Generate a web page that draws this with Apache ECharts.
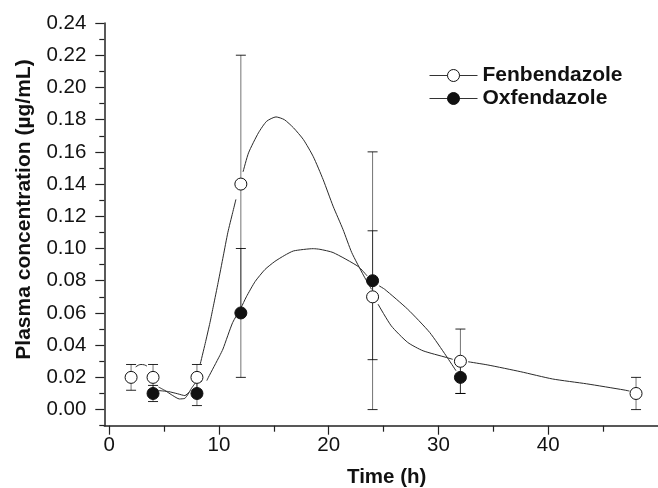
<!DOCTYPE html>
<html>
<head>
<meta charset="utf-8">
<script src="https://cdn.jsdelivr.net/npm/echarts@6.0.0/dist/echarts.min.js"></script>
<style>
  html, body { margin: 0; padding: 0; background: #fff; }
  #chart { width: 658px; height: 488px; }
</style>
</head>
<body>
<div id="chart"></div>
<script>
// ---- Data ----
const fenTime = [2, 4, 8, 12, 24, 32, 48];
const fenMean = [0.020, 0.020, 0.020, 0.140, 0.070, 0.030, 0.010];
const fenLow  = [0.012, 0.012, 0.012, 0.060, 0.000, 0.010, 0.000];
const fenHigh = [0.028, 0.028, 0.028, 0.220, 0.160, 0.050, 0.020];

const oxfTime = [4, 8, 12, 24, 32];
const oxfMean = [0.010, 0.010, 0.060, 0.080, 0.020];
const oxfLow  = [0.005, 0.0025, 0.020, 0.031, 0.010];
const oxfHigh = [0.015, 0.0175, 0.100, 0.111, 0.030];

// fitted (smoothed) curves as drawn in the figure; null = gap at a marker
const fenCurveX = [2.42, 2.7, 2.9, 3.2, 3.45, 3.9,
  4.5, 5.1, 5.8, 6.4, 6.9, 7.2, 7.5, 7.9, 8.05,
  8.3, 8.75, 9.19, 9.5, 9.93, 10.4, 10.81, 11.25, 11.55, 11.9,
  12.2, 12.7, 13.6, 14.35, 15.2, 15.96, 16.8, 17.7, 18.6, 19.5, 20.4, 21.3, 22.1, 23.2, 23.9, 24.2,
  24.5, 25.7, 27.2, 28.6, 30.7, 31.3, 32.0,
  32.7, 34.5, 37.5, 40.4, 43.5, 46.9, 47.4];
const fenCurveY = [0.0265, 0.0277, 0.028, 0.0278, 0.027, null,
  0.0140, 0.0118, 0.0087, 0.0066, 0.0070, 0.0097, 0.0132, 0.0170, null,
  0.0283, 0.0410, 0.0541, 0.0644, 0.0789, 0.0954, 0.1098, 0.1222, 0.1305, null,
  0.1476, 0.1594, 0.1718, 0.1790, 0.1817, 0.1800, 0.1749, 0.1676, 0.1570, 0.1427, 0.1263, 0.1119, 0.0975, 0.0830, 0.0747, null,
  0.0654, 0.0520, 0.0417, 0.0365, 0.0324, 0.0312, null,
  0.0297, 0.0277, 0.0235, 0.0190, 0.0160, 0.0122, 0.0115];

const oxfCurveX = [4.5, 5.4, 6.25, 6.9, 7.3, 7.6,
  8.9, 9.04, 10.07, 10.37, 11.25, 12.0, 12.5, 13.3, 14.2, 15.1, 16.0, 16.8, 18.6, 19.2, 20.4, 22.7, 23.5, 24.0,
  24.6, 25.1, 27.2, 29.2, 30.7, 31.6];
const oxfCurveY = [0.0118, 0.0112, 0.0098, 0.0087, 0.0110, null,
  0.0180, 0.0200, 0.0334, 0.0376, 0.0540, 0.0630, 0.0700, 0.0795, 0.0870, 0.0920, 0.0958, 0.0985, 0.0999, 0.0995, 0.0975, 0.0888, 0.0830, null,
  0.0768, 0.0747, 0.0623, 0.0479, 0.0334, 0.0241];

const yMajor = [0, 0.02, 0.04, 0.06, 0.08, 0.10, 0.12, 0.14, 0.16, 0.18, 0.20, 0.22, 0.24];
const yMinor = [-0.01, 0.01, 0.03, 0.05, 0.07, 0.09, 0.11, 0.13, 0.15, 0.17, 0.19, 0.21, 0.23];
const xMajor = [0, 10, 20, 30, 40];
const xMinor = [5, 15, 25, 35, 45];

// ---- Build ----
const FONT = '"Liberation Sans", Arial, Helvetica, sans-serif';
const pairs = (xs, ys) => xs.map((x, i) => [x, ys[i] === null ? '-' : ys[i]]);
const errData = (xs, lo, hi) => xs.map((x, i) => [x, lo[i], hi[i]]);

function errRender(params, api) {
  const x = api.value(0), lo = api.value(1), hi = api.value(2);
  const a = api.coord([x, lo]), b = api.coord([x, hi]);
  const hw = 5;
  const stem = { stroke: 'rgba(0,0,0,0.55)', lineWidth: 1 };
  const cap = { stroke: 'rgba(0,0,0,0.85)', lineWidth: 1 };
  return {
    type: 'group',
    children: [
      { type: 'line', shape: { x1: a[0], y1: a[1], x2: b[0], y2: b[1] }, style: stem },
      { type: 'line', shape: { x1: a[0] - hw, y1: a[1], x2: a[0] + hw, y2: a[1] }, style: cap },
      { type: 'line', shape: { x1: b[0] - hw, y1: b[1], x2: b[0] + hw, y2: b[1] }, style: cap }
    ]
  };
}

const chart = echarts.init(document.getElementById('chart'), null, { renderer: 'canvas' });

const axisLineStyle = { color: '#222', width: 1.5 };

const option = {
  animation: false,
  backgroundColor: '#fff',
  grid: { left: 104.3, top: 23, right: -16.3, bottom: 62.3, containLabel: false },
  xAxis: [
    {
      type: 'value', min: -0.44, max: 50, position: 'bottom',
      axisLine: { show: true, onZero: false, lineStyle: axisLineStyle },
      axisTick: { show: true, inside: false, length: 9, customValues: xMajor, lineStyle: { color: '#222', width: 1.2 } },
      axisLabel: { show: true, customValues: xMajor, margin: 9, fontSize: 20.5, fontFamily: FONT, color: '#111' },
      splitLine: { show: false }
    },
    {
      type: 'value', min: -0.44, max: 50, position: 'bottom', gridIndex: 0,
      axisLine: { show: false, onZero: false },
      axisTick: { show: true, inside: false, length: 6, customValues: xMinor, lineStyle: { color: '#222', width: 1.2 } },
      axisLabel: { show: false },
      splitLine: { show: false }
    }
  ],
  yAxis: [
    {
      type: 'value', min: -0.01, max: 0.24, position: 'left',
      axisLine: { show: true, onZero: false, lineStyle: axisLineStyle },
      axisTick: { show: true, inside: false, length: 9, customValues: yMajor, lineStyle: { color: '#222', width: 1.2 } },
      axisLabel: { show: true, customValues: yMajor, margin: 18, fontSize: 20.5, fontFamily: FONT, color: '#111',
        formatter: v => v.toFixed(2) },
      splitLine: { show: false }
    },
    {
      type: 'value', min: -0.01, max: 0.24, position: 'left', gridIndex: 0,
      axisLine: { show: false, onZero: false },
      axisTick: { show: true, inside: false, length: 5, customValues: yMinor, lineStyle: { color: '#222', width: 1.2 } },
      axisLabel: { show: false },
      splitLine: { show: false }
    }
  ],
  legend: {
    orient: 'vertical', left: 429, top: 64, padding: 0, itemGap: 0,
    itemWidth: 48, itemHeight: 15,
    textStyle: { fontSize: 21, fontWeight: 'bold', fontFamily: FONT, color: '#111', lineHeight: 23 },
    data: [
      { name: 'Fenbendazole', itemStyle: { color: '#fff', borderColor: '#111', borderWidth: 1 }, lineStyle: { color: '#333', width: 1 } },
      { name: 'Oxfendazole', itemStyle: { color: '#111', borderColor: '#111', borderWidth: 1 }, lineStyle: { color: '#333', width: 1 } }
    ]
  },
  series: [
    {
      name: 'Fenbendazole', type: 'line', data: pairs(fenCurveX, fenCurveY),
      smooth: 0.2, showSymbol: false, symbol: 'circle', connectNulls: false,
      lineStyle: { color: '#2a2a2a', width: 1 },
      itemStyle: { color: '#fff', borderColor: '#111', borderWidth: 1 },
      z: 2, silent: true
    },
    {
      name: 'Oxfendazole', type: 'line', data: pairs(oxfCurveX, oxfCurveY),
      smooth: 0.2, showSymbol: false, symbol: 'circle', connectNulls: false,
      lineStyle: { color: '#2a2a2a', width: 1 },
      itemStyle: { color: '#111' },
      z: 2, silent: true
    },
    {
      name: 'Fenbendazole', type: 'custom', renderItem: errRender,
      data: errData(fenTime, fenLow, fenHigh), encode: { x: 0, y: [1, 2] }, z: 3, clip: false, silent: true
    },
    {
      name: 'Oxfendazole', type: 'custom', renderItem: errRender,
      data: errData(oxfTime, oxfLow, oxfHigh), encode: { x: 0, y: [1, 2] }, z: 3, clip: false, silent: true
    },
    {
      name: 'Fenbendazole', type: 'scatter', data: pairs(fenTime, fenMean),
      symbol: 'circle', symbolSize: 12,
      itemStyle: { color: '#fff', borderColor: '#111', borderWidth: 1, opacity: 1 },
      z: 5, silent: true
    },
    {
      name: 'Oxfendazole', type: 'scatter', data: pairs(oxfTime, oxfMean),
      symbol: 'circle', symbolSize: 12,
      itemStyle: { color: '#111', borderColor: '#111', borderWidth: 1, opacity: 1 },
      z: 5, silent: true
    }
  ],
  graphic: [
    {
      type: 'text', x: 386.7, y: 477, z: 10,
      style: { text: 'Time (h)', fontSize: 20.5, fontWeight: 'bold', fontFamily: FONT, fill: '#111',
        align: 'center', verticalAlign: 'middle' }
    },
    {
      type: 'text', x: 24.4, y: 209.5, rotation: Math.PI / 2, z: 10,
      style: { text: 'Plasma concentration (µg/mL)', fontSize: 21, fontWeight: 'bold', fontFamily: FONT, fill: '#111',
        align: 'center', verticalAlign: 'middle' }
    }
  ]
};
chart.setOption(option);
</script>
</body>
</html>
